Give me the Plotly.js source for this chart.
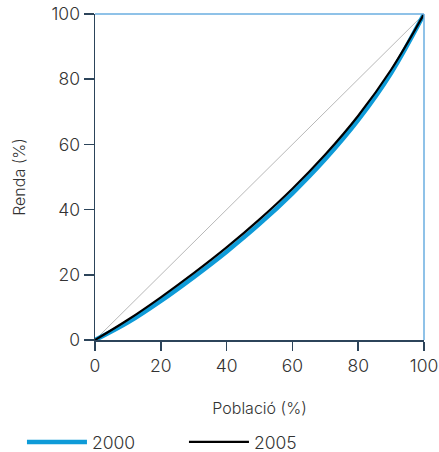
<!DOCTYPE html>
<html>
<head>
<meta charset="utf-8">
<script src="https://cdn.plot.ly/plotly-3.0.1.min.js"></script>
<style>html,body{margin:0;padding:0;background:#fff;}#chart{width:439px;height:452px;}</style>
</head>
<body>
<div id="chart"></div>
<script>
const poblacio = [0, 10, 20, 30, 40, 50, 60, 70, 80, 90, 100];
const renda2000 = [0, 5.4, 12.0, 19.3, 27.1, 35.6, 45.0, 55.5, 67.5, 81.9, 100];
const renda2005 = [0, 6.2, 13.1, 20.5, 28.4, 37.0, 46.4, 56.9, 68.8, 82.9, 100];
const igualtat = [0, 100];
const seriesNames = ['2000', '2005'];

const traces = [
  {x: igualtat, y: igualtat, mode: 'lines', line: {color: '#b8b8b8', width: 1}, showlegend: false, hoverinfo: 'skip'},
  {x: poblacio, y: renda2000, name: seriesNames[0], mode: 'lines', line: {color: '#0e9bd8', width: 4.5, shape: 'spline'}},
  {x: poblacio, y: renda2005, name: seriesNames[1], mode: 'lines', line: {color: '#000000', width: 2.2, shape: 'spline'}}
];

const F = 'Inter, sans-serif';
const W = 300;
const C = '#333';
const layout = {
  width: 439, height: 452,
  margin: {l: 95, r: 15, t: 14, b: 112, autoexpand: false},
  paper_bgcolor: '#fff', plot_bgcolor: '#fff',
  font: {family: F, size: 17, color: C, weight: W},
  xaxis: {
    range: [0, 100], tickvals: [0, 20, 40, 60, 80, 100],
    showgrid: false, zeroline: false, showline: true, linecolor: '#2c445a', linewidth: 1.5,
    ticks: 'outside', ticklen: 9, tickcolor: '#2c445a', tickwidth: 1.5,
    tickfont: {family: F, size: 17.5, color: C, weight: W},
    title: {text: 'Població (%)', font: {family: F, size: 16, color: C, weight: W}, standoff: 28}
  },
  yaxis: {
    range: [0, 100], tickvals: [0, 20, 40, 60, 80, 100],
    showgrid: false, zeroline: false, showline: true, linecolor: '#2c445a', linewidth: 1.5,
    ticks: 'outside', ticklen: 10, tickcolor: '#2c445a', tickwidth: 1.5,
    tickfont: {family: F, size: 17.5, color: C, weight: W},
    title: {text: 'Renda (%)', font: {family: F, size: 16, color: C, weight: W}, standoff: 22}
  },
  shapes: [
    {type: 'line', xref: 'paper', yref: 'paper', x0: 0, x1: 1, y0: 1, y1: 1, line: {color: '#6aaee0', width: 1.5}},
    {type: 'line', xref: 'paper', yref: 'paper', x0: 1, x1: 1, y0: 0, y1: 1, line: {color: '#6aaee0', width: 1.5}}
  ],
  legend: {
    orientation: 'h', x: -0.222, xanchor: 'left', y: -0.313, yanchor: 'middle',
    font: {family: F, size: 17.5, color: C, weight: W}, itemwidth: 60,
    entrywidth: 87, entrywidthmode: 'pixels', bgcolor: 'rgba(0,0,0,0)'
  }
};

Plotly.newPlot('chart', traces, layout, {displayModeBar: false, staticPlot: true});
</script>
</body>
</html>
